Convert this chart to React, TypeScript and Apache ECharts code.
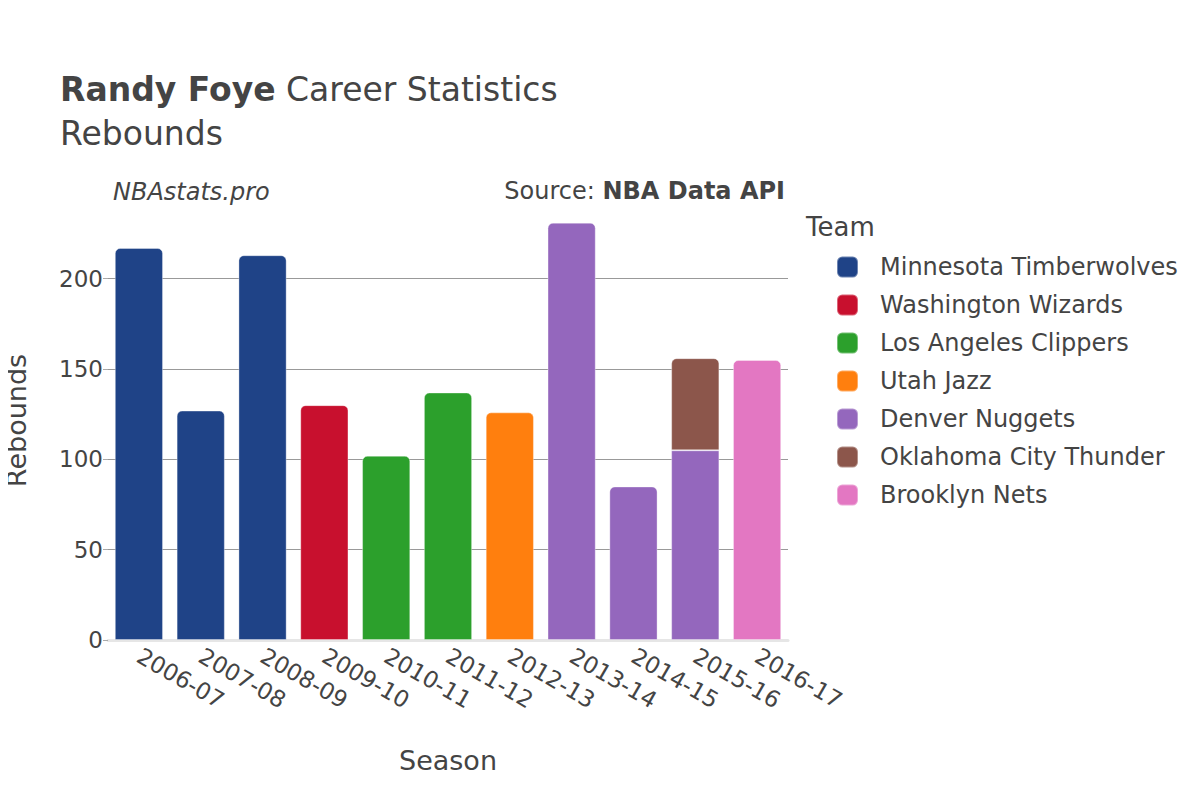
import React, { useEffect, useRef } from "react";
import * as echarts from "echarts";

const seasons = ["2006-07", "2007-08", "2008-09", "2009-10", "2010-11", "2011-12", "2012-13", "2013-14", "2014-15", "2015-16", "2016-17"];
const teams = ["Minnesota Timberwolves", "Washington Wizards", "Los Angeles Clippers", "Utah Jazz", "Denver Nuggets", "Oklahoma City Thunder", "Brooklyn Nets"];
const teamColors = ["#1f4387", "#c8102e", "#2ca02c", "#ff7f0e", "#9467bd", "#8c564b", "#e377c2"];
const minnesota = [217, 127, 213, null, null, null, null, null, null, null, null];
const washington = [null, null, null, 130, null, null, null, null, null, null, null];
const clippers = [null, null, null, null, 102, 137, null, null, null, null, null];
const utah = [null, null, null, null, null, null, 126, null, null, null, null];
const denver = [null, null, null, null, null, null, null, 231, 85, 105, null];
const okc = [null, null, null, null, null, null, null, null, null, 51, null];
const brooklyn = [null, null, null, null, null, null, null, null, null, null, 155];
const teamValues = [minnesota, washington, clippers, utah, denver, okc, brooklyn];
const yTicks = [0, 50, 100, 150, 200];

const FONT = "'DejaVu Sans', sans-serif";

export default function App() {
  const ref = useRef<HTMLDivElement>(null);
  useEffect(() => {
    if (!ref.current) return;
    const chart = echarts.init(ref.current, undefined, { renderer: "svg" });
    const series = teams.map((name, ti) => ({
      name,
      type: "bar",
      stack: "total",
      barWidth: "78%",
      itemStyle: { color: teamColors[ti], borderColor: "rgba(255,255,255,0.35)", borderWidth: 1 },
      data: teamValues[ti].map((v, si) => {
        if (v == null) return null;
        let isTop = true;
        for (let tj = ti + 1; tj < teams.length; tj++) {
          if (teamValues[tj][si] != null) isTop = false;
        }
        return { value: v, itemStyle: { borderRadius: isTop ? [5, 5, 0, 0] : 0 } };
      }),
    }));
    chart.setOption({
      animation: false,
      backgroundColor: "#fff",
      textStyle: { fontFamily: FONT },
      grid: { left: 108, right: 412, top: 201, bottom: 160, outerBoundsMode: "none", containLabel: false },
      xAxis: {
        type: "category",
        data: seasons,
        axisTick: { show: false },
        axisLine: { show: true, lineStyle: { color: "#e6e6e6", width: 3 } },
        axisLabel: { rotate: -30, fontSize: 23, color: "#444", fontFamily: FONT, margin: 14 },
        name: "Season",
        nameLocation: "middle",
        nameGap: 107,
        nameTextStyle: { fontSize: 27, color: "#444", fontFamily: FONT },
      },
      yAxis: {
        type: "value",
        min: 0,
        max: 243,
        interval: 50,
        axisLine: { show: false },
        axisTick: { show: true, length: 5, lineStyle: { color: "#aaa" } },
        axisLabel: {
          fontSize: 23,
          color: "#444",
          fontFamily: FONT,
          margin: 5,
          showMaxLabel: false,
          formatter: (v: number) => (yTicks.includes(v) ? String(v) : ""),
        },
        splitLine: { show: true, showMinLine: false, showMaxLine: false, lineStyle: { color: "#999", width: 1 } },
        name: "Rebounds",
        nameLocation: "middle",
        nameGap: 78,
        nameRotate: 90,
        nameTextStyle: { fontSize: 27, color: "#444", fontFamily: FONT },
      },
      legend: {
        orient: "vertical",
        left: 831,
        top: 250,
        itemWidth: 21,
        itemHeight: 21,
        itemGap: 14,
        icon: "roundRect",
        data: teams,
        textStyle: { fontSize: 24, lineHeight: 24, color: "#444", fontFamily: FONT, padding: [0, 0, 0, 17] },
      },
      graphic: [
        {
          type: "text",
          left: 60,
          top: 73,
          style: {
            text: "{b|Randy Foye}{n| Career Statistics}",
            rich: {
              b: { fontSize: 33, fontWeight: "bold", fill: "#444", fontFamily: FONT },
              n: { fontSize: 33, fill: "#444", fontFamily: FONT },
            },
          },
        },
        {
          type: "text",
          left: 60,
          top: 117,
          style: { text: "Rebounds", fontSize: 33, fill: "#444", fontFamily: FONT },
        },
        {
          type: "text",
          left: 113,
          top: 180,
          style: { text: "NBAstats.pro", fontSize: 24, fontStyle: "italic", fill: "#444", fontFamily: FONT },
        },
        {
          type: "text",
          right: 1200 - 785,
          top: 179,
          style: {
            text: "{n|Source: }{b|NBA Data API}",
            rich: {
              n: { fontSize: 24, fill: "#444", fontFamily: FONT },
              b: { fontSize: 24, fontWeight: "bold", fill: "#444", fontFamily: FONT },
            },
          },
        },
        {
          type: "text",
          left: 806,
          top: 214,
          style: { text: "Team", fontSize: 26, fill: "#444", fontFamily: FONT },
        },
      ],
      series,
    });
    return () => chart.dispose();
  }, []);
  return <div ref={ref} style={{ width: 1200, height: 800, margin: -8 }} />;
}
